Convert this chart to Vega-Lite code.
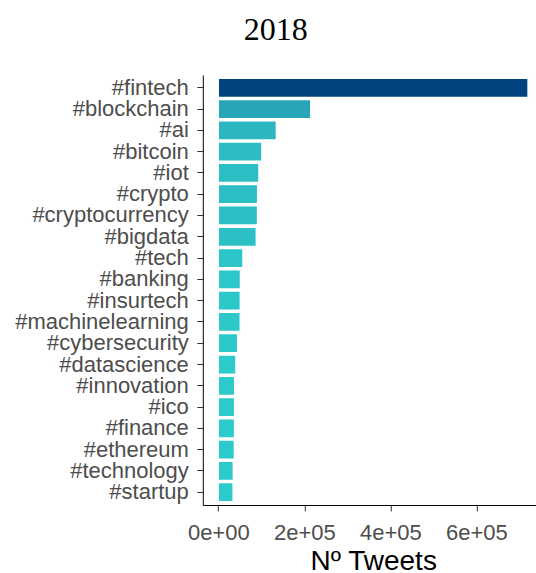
{
  "$schema": "https://vega.github.io/schema/vega-lite/v6.json",
  "width": 333,
  "height": 430,
  "autosize": {"type": "none"},
  "padding": {"left": 202.8, "top": 75, "right": 0, "bottom": 68},
  "background": "white",
  "title": {
    "text": "2018",
    "font": "Liberation Serif",
    "fontSize": 32,
    "fontWeight": "normal",
    "color": "black",
    "anchor": "middle",
    "baseline": "alphabetic",
    "offset": 3.5,
    "dx": -93.6
  },
  "config": {
    "view": {"stroke": null},
    "axis": {"grid": false, "domainColor": "black", "domainWidth": 1, "tickColor": "#333333", "tickWidth": 1, "tickSize": 6, "labelFont": "Liberation Sans", "labelFontSize": 22, "labelColor": "#4D4D4D", "titleFont": "Liberation Sans"}
  },
  "data": {
    "values": [
      {"tag": "#fintech", "tweets": 720000},
      {"tag": "#blockchain", "tweets": 215000},
      {"tag": "#ai", "tweets": 135000},
      {"tag": "#bitcoin", "tweets": 101500},
      {"tag": "#iot", "tweets": 94500},
      {"tag": "#crypto", "tweets": 91500},
      {"tag": "#cryptocurrency", "tweets": 91200},
      {"tag": "#bigdata", "tweets": 88300},
      {"tag": "#tech", "tweets": 57400},
      {"tag": "#banking", "tweets": 51500},
      {"tag": "#insurtech", "tweets": 51200},
      {"tag": "#machinelearning", "tweets": 51000},
      {"tag": "#cybersecurity", "tweets": 45000},
      {"tag": "#datascience", "tweets": 41000},
      {"tag": "#innovation", "tweets": 38200},
      {"tag": "#ico", "tweets": 38000},
      {"tag": "#finance", "tweets": 37800},
      {"tag": "#ethereum", "tweets": 37500},
      {"tag": "#technology", "tweets": 35000},
      {"tag": "#startup", "tweets": 34500}
    ]
  },
  "mark": {"type": "bar", "stroke": "white", "strokeWidth": 1.4},
  "encoding": {
    "y": {
      "field": "tag",
      "type": "nominal",
      "sort": ["#fintech", "#blockchain", "#ai", "#bitcoin", "#iot", "#crypto", "#cryptocurrency", "#bigdata", "#tech", "#banking", "#insurtech", "#machinelearning", "#cybersecurity", "#datascience", "#innovation", "#ico", "#finance", "#ethereum", "#technology", "#startup"],
      "scale": {"paddingInner": 0.1, "paddingOuter": 0.15},
      "axis": {"title": null, "labelPadding": 8.5, "labelLimit": 300}
    },
    "x": {
      "field": "tweets",
      "type": "quantitative",
      "scale": {"domain": [-36000, 738000], "nice": false, "zero": false},
      "axis": {
        "title": "Nº Tweets",
        "titleFontSize": 28,
        "titleFontWeight": "normal",
        "titleColor": "black",
        "titleX": 170.4,
        "titleY": 65,
        "titleBaseline": "alphabetic",
        "titleAnchor": "middle",
        "values": [0, 200000, 400000, 600000],
        "labelExpr": "datum.value == 0 ? '0e+00' : format(datum.value/100000, '.0f') + 'e+05'",
        "labelBaseline": "alphabetic",
        "labelPadding": 29,
        "labelFlush": false
      }
    },
    "x2": {"datum": 0},
    "color": {
      "field": "tweets",
      "type": "quantitative",
      "scale": {"range": ["#2CCBCB", "#00437E"], "interpolate": "lab"},
      "legend": null
    }
  }
}
